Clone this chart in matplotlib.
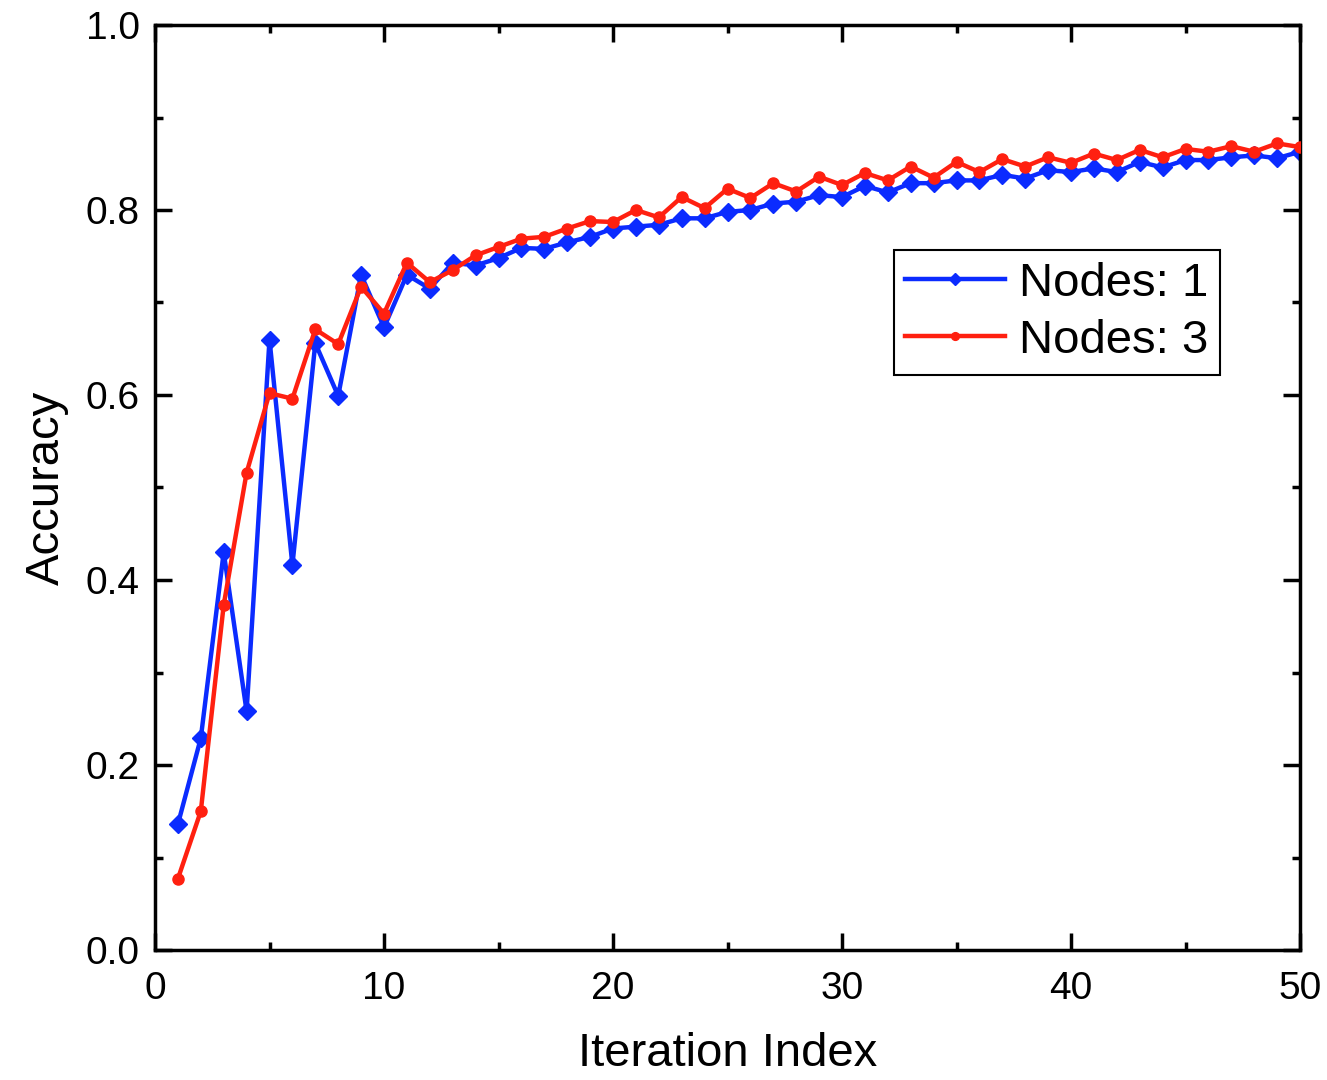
import matplotlib
matplotlib.use("Agg")
import matplotlib.pyplot as plt
from matplotlib.ticker import MultipleLocator

plt.rcParams['font.family'] = ['Liberation Sans', 'DejaVu Sans']

iterations = list(range(1, 51))
nodes1 = [0.136, 0.229, 0.430, 0.258, 0.660, 0.416, 0.656, 0.599, 0.730, 0.673,
          0.730, 0.715, 0.743, 0.740, 0.748, 0.759, 0.758, 0.765, 0.771, 0.780,
          0.782, 0.784, 0.791, 0.791, 0.798, 0.800, 0.807, 0.809, 0.816, 0.814,
          0.826, 0.819, 0.829, 0.829, 0.832, 0.832, 0.838, 0.834, 0.843, 0.841,
          0.845, 0.841, 0.852, 0.846, 0.854, 0.854, 0.857, 0.859, 0.856, 0.863]
nodes3 = [0.077, 0.150, 0.373, 0.516, 0.602, 0.596, 0.671, 0.655, 0.717, 0.688,
          0.743, 0.722, 0.735, 0.751, 0.760, 0.769, 0.771, 0.780, 0.788, 0.787,
          0.800, 0.792, 0.814, 0.802, 0.823, 0.813, 0.829, 0.820, 0.836, 0.827,
          0.840, 0.832, 0.847, 0.835, 0.852, 0.841, 0.855, 0.847, 0.857, 0.851,
          0.861, 0.854, 0.865, 0.857, 0.866, 0.863, 0.869, 0.863, 0.872, 0.868]
labels = ["Nodes: 1", "Nodes: 3"]
x_ticks = [0, 10, 20, 30, 40, 50]
y_ticks = [0.0, 0.2, 0.4, 0.6, 0.8, 1.0]

blue = '#0b2bff'
red = '#ff2010'

fig = plt.figure(figsize=(13.27, 10.8), dpi=100)
ax = fig.add_axes([155/1327, 130/1080, 1145/1327, 925/1080])

ax.plot(iterations, nodes1, color=blue, lw=3.2, marker='D', ms=9,
        mec=blue, mfc=blue, label=labels[0], zorder=2)
ax.plot(iterations, nodes3, color=red, lw=3.2, marker='o', ms=8,
        mec=red, mfc=red, label=labels[1], zorder=3)

ax.set_xlim(0, 50)
ax.set_ylim(0, 1.0)
ax.set_xticks(x_ticks)
ax.set_yticks(y_ticks)
ax.set_xticklabels([str(v) for v in x_ticks])
ax.set_yticklabels([f"{v:.1f}" for v in y_ticks])
ax.xaxis.set_minor_locator(MultipleLocator(5))
ax.yaxis.set_minor_locator(MultipleLocator(0.1))

ax.tick_params(which='both', direction='in', top=True, right=True, width=2.5, color='black')
ax.tick_params(which='major', length=12, labelsize=28, pad=11)
ax.tick_params(axis='x', which='major', pad=15)
ax.tick_params(which='minor', length=6)
for s in ax.spines.values():
    s.set_linewidth(2.5)

ax.set_xlabel("Iteration Index", fontsize=34, labelpad=18)
ax.set_ylabel("Accuracy", fontsize=34, labelpad=12)

leg = ax.legend(loc='upper right', bbox_to_anchor=(0.930, 0.757), fontsize=34,
                frameon=True, fancybox=False, framealpha=1, edgecolor='black',
                handlelength=2.1, handletextpad=0.3, labelspacing=0.28,
                borderpad=0.25, borderaxespad=0, markerscale=0.7)
leg.get_frame().set_linewidth(1.5)

fig.savefig("out.png", dpi=100)
